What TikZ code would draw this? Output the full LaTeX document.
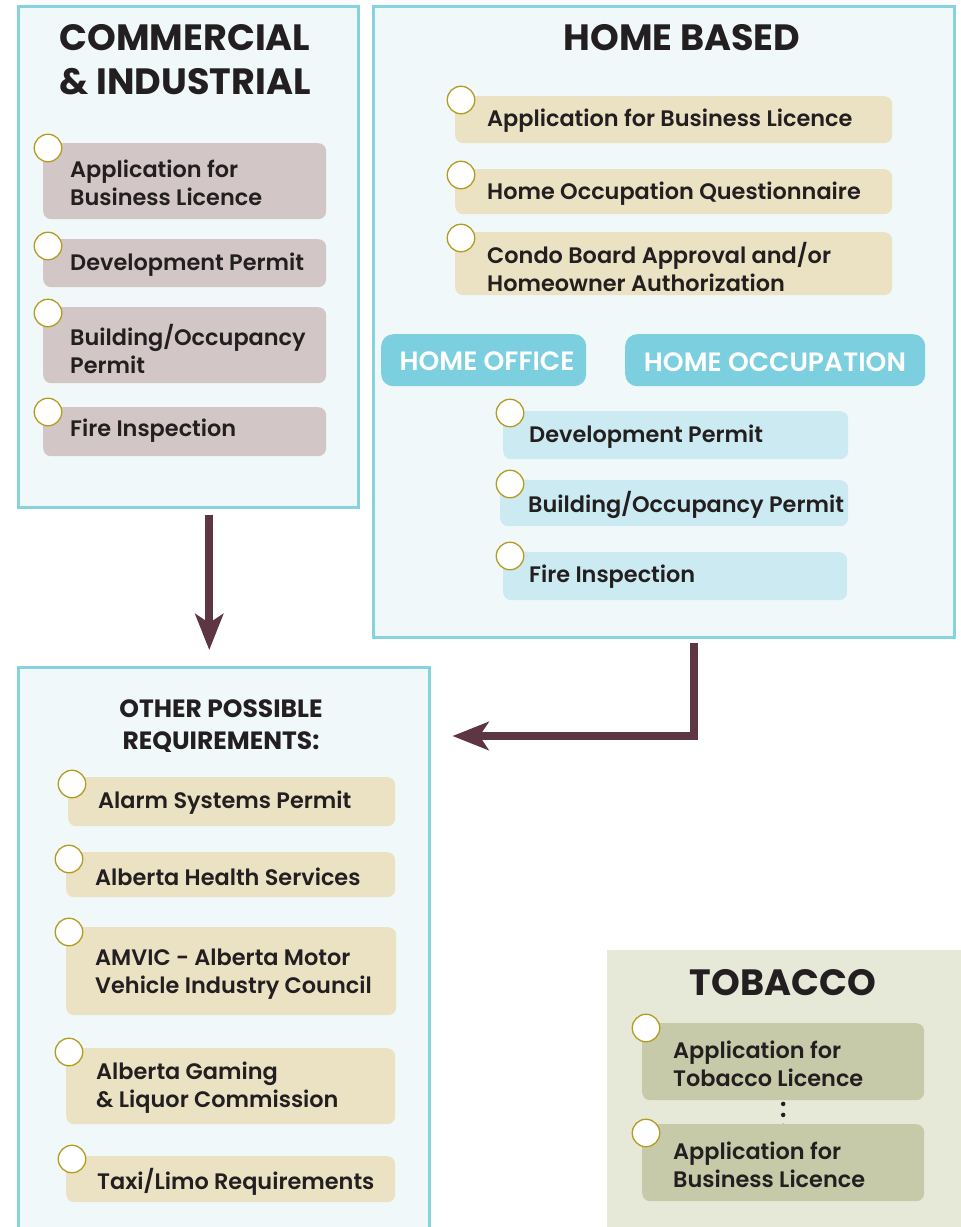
\documentclass[tikz,border=0pt]{standalone}
\usepackage{fontspec}
\usetikzlibrary{arrows.meta}
\setmainfont{Poppins}
\IfFontExistsTF{Poppins SemiBold}
  {\newfontfamily\itemfontbase{Poppins SemiBold}\newcommand\itemfont{\itemfontbase}}
  {\newcommand\itemfont{\bfseries}}
\IfFontExistsTF{Poppins Medium}
  {\newfontfamily\medfontbase{Poppins Medium}\newcommand\medfont{\medfontbase}}
  {\newcommand\medfont{\bfseries}}
\definecolor{outerline}{HTML}{86D2DF}
\definecolor{outerfill}{HTML}{F0F8FA}
\definecolor{comfill}{HTML}{D3C6C6}
\definecolor{tanfill}{HTML}{EBE2C4}
\definecolor{btnfill}{HTML}{7BCFDF}
\definecolor{lbfill}{HTML}{CCEAF2}
\definecolor{tobbg}{HTML}{E6E9D8}
\definecolor{tobfill}{HTML}{C6CAA9}
\definecolor{circline}{HTML}{B39B1E}
\definecolor{arrowc}{HTML}{5E3543}
\definecolor{ink}{HTML}{231F20}
\tikzset{
  outer/.style={rectangle, draw=outerline, fill=outerfill, line width=2.5pt, anchor=north west, inner sep=0},
  itembox/.style={rectangle, rounded corners=8pt, anchor=north west, inner sep=0},
  itxt/.style={anchor=west, align=left, inner sep=0, yshift=-1.5pt, text=ink, font=\itemfont\fontsize{22.4}{28}\selectfont},
  ttl/.style={align=center, inner sep=0, text=ink, font=\bfseries\fontsize{36.6}{44}\selectfont},
  subttl/.style={align=center, inner sep=0, text=ink, font=\bfseries\fontsize{25}{32}\selectfont},
  btn/.style={rectangle, rounded corners=12pt, fill=btnfill, anchor=north west, inner sep=0},
  btntxt/.style={inner sep=0, text=white, font=\itemfont\fontsize{26.5}{30}\selectfont},
  ring/.style={circle, draw=circline, fill=white, line width=1.3pt, minimum size=27.5pt, inner sep=0},
  arr/.style={draw=arrowc, line width=8pt, line join=miter, -{Stealth[length=36pt,width=28pt,inset=9pt]}},
  dotline/.style={draw=ink, line width=4.5pt, line cap=round, dash pattern=on 0pt off 11pt}
}
\begin{document}
\begin{tikzpicture}[x=1pt,y=-1pt]
\useasboundingbox (0,0) rectangle (961,1227);
% ---------- COMMERCIAL & INDUSTRIAL ----------
\node[outer, minimum width=340, minimum height=501] (com) at (17,5) {};
\node[ttl] (comt) at (185,60) {COMMERCIAL\\\& INDUSTRIAL};
\node[itembox, fill=comfill, minimum width=283, minimum height=76] (cb1) at (43,143) {};
\node[itxt] (ct1) at (70,181) {Application for\\Business Licence};
\node[ring] (cr1) at (48,148) {};
\node[itembox, fill=comfill, minimum width=283, minimum height=48] (cb2) at (43,239) {};
\node[itxt] (ct2) at (70,263) {Development Permit};
\node[ring] (cr2) at (48,246) {};
\node[itembox, fill=comfill, minimum width=283, minimum height=76] (cb3) at (43,307) {};
\node[itxt] (ct3) at (70,347) {Building/Occupancy\\Permit};
\node[ring] (cr3) at (48,313) {};
\node[itembox, fill=comfill, minimum width=283, minimum height=49] (cb4) at (43,407) {};
\node[itxt] (ct4) at (70,429) {Fire Inspection};
\node[ring] (cr4) at (48,412) {};
% ---------- HOME BASED ----------
\node[outer, minimum width=581, minimum height=631] (home) at (372,5) {};
\node[ttl] (homet) at (682,38) {HOME BASED};
\node[itembox, fill=tanfill, minimum width=437, minimum height=47] (hb1) at (455,96) {};
\node[itxt] (ht1) at (487,119) {Application for Business Licence};
\node[ring] (hr1) at (461,100) {};
\node[itembox, fill=tanfill, minimum width=437, minimum height=45] (hb2) at (455,169) {};
\node[itxt] (ht2) at (487,192) {Home Occupation Questionnaire};
\node[ring] (hr2) at (461,175) {};
\node[itembox, fill=tanfill, minimum width=437, minimum height=63] (hb3) at (455,232) {};
\node[itxt] (ht3) at (487,265) {Condo Board Approval and/or\\Homeowner Authorization};
\node[ring] (hr3) at (461,238) {};
\node[btn, minimum width=205, minimum height=52] (hoff) at (381,334) {};
\node[btntxt] (hofft) at (487,361) {HOME OFFICE};
\node[btn, minimum width=300, minimum height=52] (hocc) at (625,334) {};
\node[btntxt] (hocct) at (775,362) {HOME OCCUPATION};
\node[itembox, fill=lbfill, minimum width=345, minimum height=48] (lb1) at (503,411) {};
\node[itxt] (lt1) at (529,435) {Development Permit};
\node[ring] (lr1) at (510,413) {};
\node[itembox, fill=lbfill, minimum width=348, minimum height=46] (lb2) at (500,480) {};
\node[itxt] (lt2) at (528,503) {Building/Occupancy Permit};
\node[ring] (lr2) at (510,484) {};
\node[itembox, fill=lbfill, minimum width=344, minimum height=48] (lb3) at (503,552) {};
\node[itxt] (lt3) at (529,575) {Fire Inspection};
\node[ring] (lr3) at (510,556) {};
% ---------- OTHER POSSIBLE REQUIREMENTS ----------
\node[outer, minimum width=411, minimum height=575] (oth) at (17,666) {};
\node[subttl] (otht) at (221,726) {OTHER POSSIBLE\\REQUIREMENTS:};
\node[itembox, fill=tanfill, minimum width=327, minimum height=49] (ob1) at (68,777) {};
\node[itxt] (ot1) at (98,801) {Alarm Systems Permit};
\node[ring] (or1) at (72,784) {};
\node[itembox, fill=tanfill, minimum width=329, minimum height=45] (ob2) at (66,852) {};
\node[itxt] (ot2) at (95,875) {Alberta Health Services};
\node[ring] (or2) at (69,859) {};
\node[itembox, fill=tanfill, minimum width=330, minimum height=88] (ob3) at (66,927) {};
\node[itxt] (ot3) at (95,973) {AMVIC - Alberta Motor\\Vehicle Industry Council};
\node[ring] (or3) at (69,932) {};
\node[itembox, fill=tanfill, minimum width=329, minimum height=76] (ob4) at (66,1048) {};
\node[itxt] (ot4) at (96,1086) {Alberta Gaming\\\& Liquor Commission};
\node[ring] (or4) at (69,1052) {};
\node[itembox, fill=tanfill, minimum width=329, minimum height=46] (ob5) at (66,1156) {};
\node[itxt] (ot5) at (97,1180) {Taxi/Limo Requirements};
\node[ring] (or5) at (72,1159) {};
% ---------- TOBACCO ----------
\node[rectangle, fill=tobbg, anchor=north west, inner sep=0, minimum width=360, minimum height=290] (tob) at (607,950) {};
\node[ttl] (tobt) at (783,983) {TOBACCO};
\node[itembox, fill=tobfill, minimum width=282, minimum height=77] (tb1) at (642,1023) {};
\node[itxt] (tt1) at (673,1062) {Application for\\Tobacco Licence};
\node[ring] (tr1) at (646,1028) {};
\draw[dotline] ([yshift=-3.5pt]tb1.south) -- (tb1.south |- 0,1126);
\node[itembox, fill=tobfill, minimum width=282, minimum height=77] (tb2) at (642,1124) {};
\node[itxt] (tt2) at (673,1163) {Application for\\Business Licence};
\node[ring] (tr2) at (646,1133) {};
% ---------- ARROWS ----------
\draw[arr] ([xshift=21pt,yshift=-6pt]com.south) -- ([xshift=-14.5pt,yshift=16pt]oth.north);
\draw[arr] ([xshift=30.5pt,yshift=-4pt]home.south) |- ([xshift=22pt,yshift=-70pt]oth.north east);
\end{tikzpicture}
\end{document}
